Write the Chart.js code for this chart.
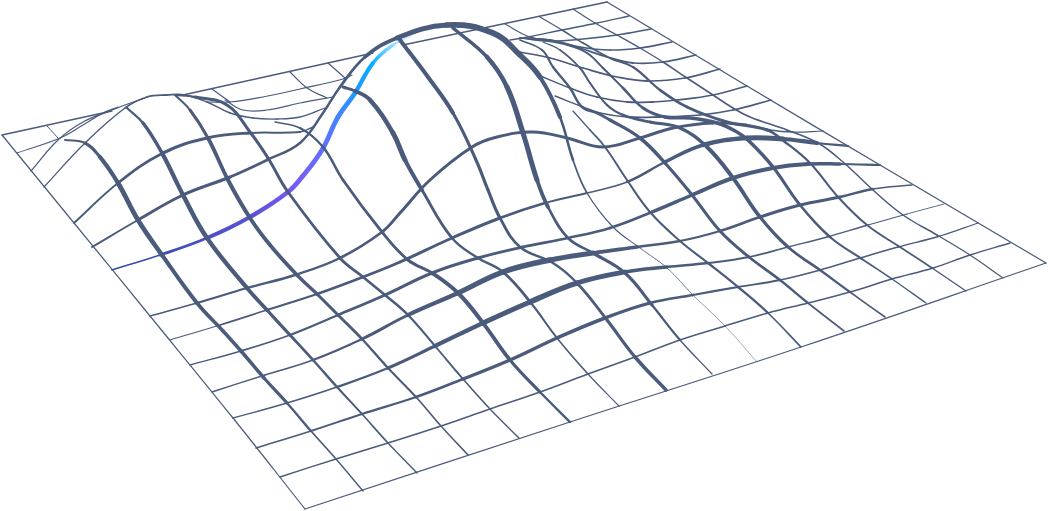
<!DOCTYPE html>
<html>
<head>
<meta charset="utf-8">
<title>Surface</title>
<script src="https://cdn.jsdelivr.net/npm/chart.js@4/dist/chart.umd.min.js"></script>
<style>
  html, body { margin: 0; padding: 0; background: #fff; }
  canvas { display: block; }
</style>
</head>
<body>
<canvas id="mesh" width="1048" height="511"></canvas>
<script>
// ---- MESH LINES as [x, y] ----
const col0 = [[2,135],[74,223],[150,316],[233,418],[305,509]];
const col1 = [[363,491],[336,459],[311,431],[287,403],[264,378],[241,351],[223,331],[197,303],[162,255],[138,220],[118,183],[100,157],[85,143],[65,140]];
const col1Tip = [[58,138],[47,126]];
const col2 = [[417,473],[388,443],[362,414],[337,387],[313,360],[290,335],[267,310],[247,288],[207,238],[183,195],[162,153],[143,123],[127,108]];
const col3 = [[468,455],[441,426],[416,397],[388,368],[362,339],[338,315],[317,294],[297,275],[270,245],[250,218],[228,180],[208,138],[190,110],[175,95]];
const col4 = [[175,95],[195,97],[227,105],[250,132],[268,158],[288,192],[340,258],[363,277],[385,295],[408,315],[435,346],[463,379],[490,409],[519,438]];
const col5 = [[275,122],[300,128],[323,147],[343,180],[382,232],[408,260],[432,273],[458,293],[483,323],[510,360],[540,392],[570,422]];
const col6 = [[343,87],[355,91],[370,100],[393,133],[405,160],[422,190],[452,238],[478,258],[503,272],[531,303],[557,338],[588,374],[619,406]];
const col7 = [[400,40],[428,77],[453,113],[476,160],[488,190],[500,218],[520,247],[553,263],[577,283],[607,320],[635,357],[666,390]];
const col8 = [[453,28],[487,57],[507,87],[523,133],[537,180],[548,207],[568,238],[593,253],[625,273],[652,305],[680,340],[712,374]];
const summit = [[92,247],[138,220],[183,195],[230,177],[267,160],[300,143],[323,113],[340,87],[365,57],[397,38],[447,25],[493,33],[520,55],[540,77],[560,117],[573,160],[587,193],[613,227],[640,248],[667,268],[693,295],[725,326],[757,362]];
const col10 = [[573,111],[590,130],[605,147],[627,180],[650,212],[680,241],[708,263],[738,287],[768,313],[801,347]];
const col11 = [[520,40],[542,50],[553,67],[570,88],[582,107],[597,113],[610,120],[640,138],[665,163],[692,195],[720,231],[749,257],[780,280],[808,303],[844,331]];
const col12 = [[543,42],[560,50],[580,68],[590,83],[607,105],[623,115],[650,122],[680,128],[707,147],[733,178],[760,217],[788,247],[820,270],[850,292],[885,317]];
const col13 = [[505,24],[530,37],[567,45],[587,53],[603,68],[623,88],[643,108],[665,117],[690,118],[717,123],[737,132],[750,142],[773,167],[800,205],[830,237],[862,259],[892,279],[926,303]];
const col14 = [[540,17],[562,30],[583,43],[610,58],[633,67],[660,90],[687,107],[727,122],[767,130],[785,142],[810,163],[838,197],[867,225],[900,247],[932,268],[966,291]];
const col15 = [[573,9],[595,23],[617,35],[640,48],[663,62],[687,78],[713,95],[733,108],[750,117],[787,130],[818,143],[843,162],[873,190],[903,215],[937,235],[970,255],[1003,278]];
const col16 = [[607,2],[747,86],[880,165],[1046,263]];

const stub1 = [[212,89],[230,102]];
const stub2 = [[290,72],[307,88],[327,98]];
const stub3 = [[328,63],[345,78]];

const edgeA = [[2,135],[112,111]];
const edgeB = [[183,95],[373,53]];
const edgeC = [[403,45],[607,2]];
const row1L = [[17,153],[60,138],[83,125],[103,113],[118,107]];
const row1M = [[207,102],[230,102],[263,97],[300,89],[343,79],[352,75]];
const row1R = [[510,40],[528,37],[562,30],[597,23],[629,16]];
const row2L = [[31,171],[58,140],[83,122],[110,111],[125,105],[145,98]];
const row2M = [[225,100],[243,110],[267,110],[300,103],[333,97]];
const row2R = [[520,38],[550,41],[583,39],[617,35],[651,29]];
const row3 = [[44,187],[85,143],[125,108],[147,97],[167,95],[185,95],[207,102],[230,113],[253,118],[277,119],[300,117],[325,108]];
const row3R = [[520,38],[550,40],[580,47],[610,50],[640,48],[672,42]];
const row4R = [[520,38],[550,40],[577,47],[607,57],[633,63],[663,62],[696,55]];
const row5 = [[74,223],[118,183],[163,153],[207,138],[250,133],[300,132],[313,127]];
const row5R = [[520,52],[550,58],[583,68],[617,77],[647,81],[685,78],[720,69]];
const row6R = [[538,75],[570,88],[597,97],[627,102],[653,102],[677,100],[713,95],[747,86]];
const row7R = [[555,96],[583,107],[600,113],[627,117],[660,117],[700,115],[733,110],[771,100]];
const accent = [[112,270],[160,255],[207,238],[250,217],[288,192],[302,177],[322,150],[338,117],[355,93],[373,63],[393,45],[417,33]];
const rowB = [[150,316],[197,303],[247,288],[295,275],[340,258],[382,232],[400,213],[430,180],[472,147],[497,137],[533,132],[567,138],[603,147],[640,138],[673,128],[713,123],[747,125],[770,130],[793,132],[823,131]];
const rowC = [[170,340],[220,325],[267,310],[317,294],[363,277],[400,262],[452,238],[500,218],[545,203],[587,193],[627,182],[665,162],[703,145],[747,138],[783,139],[817,143],[848,146]];
const rowD = [[190,365],[241,351],[290,335],[338,315],[385,295],[432,273],[478,258],[523,247],[568,238],[610,228],[652,212],[692,195],[733,178],[773,168],[808,164],[840,164],[880,165]];
const rowE = [[212,392],[265,375],[313,360],[362,339],[408,315],[458,293],[503,272],[550,260],[593,253],[637,247],[680,241],[720,231],[760,217],[800,205],[840,197],[873,189],[912,185]];
const rowF = [[233,418],[287,403],[337,387],[388,368],[435,346],[483,323],[530,302],[577,283],[625,272],[667,267],[708,263],[749,257],[788,247],[827,237],[868,225],[907,214],[944,204]];
const rowG = [[256,448],[311,431],[362,414],[416,397],[463,379],[510,360],[557,338],[605,318],[650,303],[693,295],[738,287],[780,280],[820,270],[860,258],[898,247],[940,236],[978,223]];
const rowH = [[280,477],[336,459],[388,443],[441,426],[490,409],[540,392],[588,374],[635,357],[680,340],[725,326],[768,313],[808,303],[850,292],[892,279],[933,268],[970,255],[1010,243]];
const rowI = [[305,509],[570,422],[801,347],[1046,263]];

// ---- STROKE WEIGHTS, spread evenly along each line ----
const series = [
  [accent, [1,2.2,3.5,4.2,4.6,4.8,4.8,4.8,4.6,4,2.8,1.5]],
  [edgeA, [1.3]], [edgeB, [1.3]], [edgeC, [1.3]],
  [row1L, [1.2]], [row1M, [1.2]], [row1R, [1.4]],
  [row2L, [1.2]], [row2M, [1.2]], [row2R, [1.6]],
  [row3, [1.2,1.5,1.8,1.5,1.4,1.3,1.3]], [row3R, [1.4,1.6]], [row4R, [1.4,1.8,1.6]],
  [row5, [1.3,2.5,3,3.2,2.5,1.5,1.2]], [row5R, [1.6,1.8,1.6]], [row6R, [1.4,1.8,1.6]], [row7R, [1.4,1.8,1.6]],
  [rowB, [1,2,2.5,2.5,2.5,3,3,3,3,3,3,3,3,3,3,3,2.5,1.8,1.5,1]],
  [rowC, [0.6,1.5,2,2.5,2.5,3,3,3,2.5,1.4,1.8,3,4,5,5,3.5,1]],
  [rowD, [1.2,1.5,2,2.5,3,3,3,2.8,2.5,2.5,3,4,4,4,4,3,1.2]],
  [rowE, [1.2,1.5,1.8,2.5,3.5,4.8,5.5,5.5,4.5,3,2,2.5,3,3,3,2,1]],
  [rowF, [1.3,1.5,2,2.8,3.5,4.8,5.5,5.5,4,3,2,2,1.5,1.5,1.2,1,0.8]],
  [rowG, [1.5,1.8,2,2.5,3,3.5,3.5,3.5,3,2.5,2,1.6,1.5,1.5,1.5,1.3,1.2]],
  [rowH, [1.3,1.4,1.5,1.5,1.5,1.6,1.6,1.5,1.4]],
  [rowI, [1.3]],
  [stub1, [1.2]], [stub2, [1.2]], [stub3, [1.2]],
  [col0, [1.2]],
  [col1, [1.3,1.5,2,3,3.5,3.5,3.6,4,4.8,4.8,4,2.5,1.5]],
  [col1Tip, [1]],
  [col2, [1.3,1.5,1.8,2.2,2.6,3,3.6,4,4.6,4.6,4,3,1.5]],
  [col3, [1.4,1.6,1.8,2.2,2.6,3,3.2,3.6,3.8,4,4,3.5,2.5,1.5]],
  [col4, [1.5,3,3,3,2.8,2.6,2.4,2,1.6,1.3]],
  [col5, [1,2,2.6,2.8,2.8,3,4,4.2,3.5,3,2]],
  [col6, [2.5,3.5,4.5,5,3.5,2.5,2.2,3,2,1.5,1]],
  [col7, [3.5,4.5,3.5,2.8,3.5,3,2.5,2.2,2.5,3,3.5,3.5]],
  [col8, [3,4,5,5.5,4.5,3,2.2,3,3.5,2.8,1.8,1]],
  [summit, [1.2,2.8,3.2,3,2.5,2.5,2.5,2.5,3,4.2,5.5,6,5.5,5,3.2,2,1.5,1.2,1,0.8,0.7,0.5,0.5]],
  [col10, [1,1.5,2,2,2,2,2,2.5,2.2,1.2]],
  [col11, [1.5,2,2.2,2.5,2.5,2.5,3,3.5,3.5,3,3,3,2.5,2,1.2]],
  [col12, [1,1.5,2,2,2.2,2.5,3,3,4,4,3.5,3,2.5,2,1.2]],
  [col13, [1,1.3,1.5,2,2,2.5,3,3.5,3.5,3.5,3.5,3.5,3,2.5,2,1.6,1.2]],
  [col14, [1.2,1.4,1.6,2,2.2,2.5,3,3,2.5,2.2,2,2,1.8,1.6,1.3]],
  [col15, [1.2,1.3,1.4,1.4,1.6,1.6,1.6,1.6,1.5,1.5,1.5,1.5,1.3,1.2]],
  [col16, [1.3]],
];

const INK = "#4a5b7c";

function weightAt(stops, i, last) {
  if (stops.length === 1) return stops[0];
  const p = (i / Math.max(last, 1)) * (stops.length - 1);
  const a = Math.floor(p);
  const b = Math.min(a + 1, stops.length - 1);
  return stops[a] + (stops[b] - stops[a]) * (p - a);
}

const datasets = series.map(([pts, stops], n) => ({
  data: pts.map(([x, y]) => ({ x, y })),
  showLine: true,
  pointRadius: 0,
  tension: 0.4,
  borderColor: INK,
  borderWidth: stops[0],
  borderCapStyle: "round",
  borderJoinStyle: "round",
  order: series.length - n,
  segment: {
    borderWidth: (ctx) => weightAt(stops, (ctx.p0DataIndex + ctx.p1DataIndex) / 2, pts.length - 1),
  },
}));

const chart = new Chart(document.getElementById("mesh"), {
  type: "scatter",
  data: { datasets },
  options: {
    responsive: false,
    animation: false,
    layout: { padding: 0, autoPadding: false },
    plugins: { legend: { display: false }, tooltip: { enabled: false } },
    scales: {
      x: { type: "linear", min: 0, max: 1048, display: false },
      y: { type: "linear", min: 0, max: 511, reverse: true, display: false },
    },
  },
});

// ---- ACCENT COLOUR, needs the scales so set after the first layout ----
const first = accent[0];
const last = accent[accent.length - 1];
const grad = chart.ctx.createLinearGradient(
  chart.scales.x.getPixelForValue(first[0]), chart.scales.y.getPixelForValue(first[1]),
  chart.scales.x.getPixelForValue(last[0]), chart.scales.y.getPixelForValue(last[1])
);
grad.addColorStop(0, "#2f4c9c");
grad.addColorStop(0.37, "#5a52d8");
grad.addColorStop(0.52, "#7a5cf5");
grad.addColorStop(0.7, "#4a80ff");
grad.addColorStop(0.78, "#2098ff");
grad.addColorStop(0.86, "#08aeff");
grad.addColorStop(0.93, "#8fdcff");
grad.addColorStop(1, "#ffffff");
chart.data.datasets[0].borderColor = grad;
chart.update("none");
</script>
</body>
</html>
